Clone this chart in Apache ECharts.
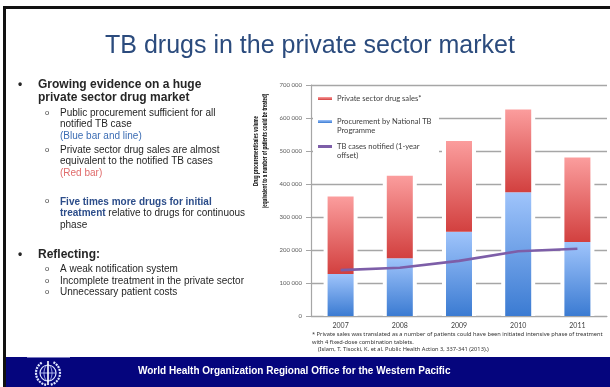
<!DOCTYPE html>
<html>
<head>
<meta charset="utf-8">
<script src="https://cdn.jsdelivr.net/npm/echarts@6/dist/echarts.min.js"></script>
<style>
html,body{margin:0;padding:0;background:#fff}
#main{width:610px;height:387px}
</style>
</head>
<body>
<div id="main"></div>
<script>
// data
const years = ['2007', '2008', '2009', '2010', '2011'];
const publicProcurement = [127000, 175000, 255000, 375000, 224000];
const privateSales = [235000, 250000, 275000, 251000, 256000];
const casesNotified = [139000, 146000, 167000, 196000, 204000];
const yMax = 700000;
const yStep = 100000;

const seriesNames = ['Private sector drug sales*', 'Procurement by National TB Programme', 'TB cases notified (1-year offset)'];

// total height of each stacked bar, used for the white halo behind the bars
const totals = years.map((y, i) => publicProcurement[i] + privateSales[i]);

var chartDom = document.getElementById('main');
var myChart = echarts.init(chartDom);
var option;

function grad(top, bottom) {
  return new echarts.graphic.LinearGradient(0, 0, 0, 1, [
    { offset: 0, color: top },
    { offset: 1, color: bottom }
  ]);
}

const txt = '#262626';
const subFont = 10;
const headFont = 'bold 12px "Liberation Sans"';
function line(x, y, text, style) {
  return {
    type: 'text', left: x, top: y - 6,
    style: Object.assign({ text: text, fill: txt, font: subFont + 'px "Liberation Sans"' }, style || {})
  };
}
function dot(y) {
  return { type: 'text', left: 45, top: y - 5, style: { text: 'o', fill: '#404040', font: '7.5px "Liberation Sans"' } };
}

function legendAt(top, name, text) {
  return {
    data: [{ name: name, icon: 'rect' }],
    orient: 'vertical',
    left: 318,
    top: top,
    padding: 0,
    itemWidth: 14,
    itemHeight: 3,
    formatter: function () { return text; },
    textStyle: { color: '#404040', fontSize: 7.6, fontFamily: 'Lato', lineHeight: 9 }
  };
}

option = {
  animation: false,
  backgroundColor: '#fff',
  grid: { left: 311, right: 3, top: 85, bottom: 71, containLabel: false },
  legend: [
    legendAt(94, seriesNames[0], 'Private sector drug sales*'),
    legendAt(108, seriesNames[1], '\nProcurement by National TB\nProgramme'),
    legendAt(133, seriesNames[2], '\nTB cases notified (1-year\noffset)')
  ],
  xAxis: [
    {
      type: 'category',
      data: years,
      z: 3,
      axisTick: { show: false },
      axisLine: { lineStyle: { color: '#a6a6a6', width: 1.2 } },
      axisLabel: { color: '#404040', fontSize: 7, fontFamily: 'Lato', margin: 6 }
    },
    { type: 'category', data: years, show: false }
  ],
  yAxis: {
    type: 'value',
    min: 0,
    max: yMax,
    interval: yStep,
    axisLine: { show: true, lineStyle: { color: '#a6a6a6', width: 1.2 } },
    axisTick: { show: true, length: 5, lineStyle: { color: '#a6a6a6' } },
    splitLine: { lineStyle: { color: '#a6a6a6', width: 1.3 } },
    axisLabel: {
      color: '#595959', fontSize: 6, fontFamily: 'Lato', margin: 9,
      formatter: function (v) { return String(v).replace(/\B(?=(\d{3})+(?!\d))/g, ' '); }
    }
  },
  series: [
    {
      name: 'halo',
      type: 'bar',
      xAxisIndex: 1,
      barWidth: 34,
      silent: true,
      itemStyle: { color: '#fff' },
      data: totals
    },
    {
      name: seriesNames[1],
      type: 'bar',
      stack: 'drugs',
      barWidth: 26,
      itemStyle: { color: grad('#9fc4fb', '#3b7bd2') },
      data: publicProcurement
    },
    {
      name: seriesNames[0],
      type: 'bar',
      stack: 'drugs',
      barWidth: 26,
      itemStyle: { color: grad('#fb9d9d', '#d2403f') },
      data: privateSales
    },
    {
      name: seriesNames[2],
      type: 'line',
      symbol: 'none',
      z: 4,
      lineStyle: { color: '#7d5ea8', width: 2.6 },
      itemStyle: { color: '#7d5ea8' },
      data: casesNotified
    }
  ],
  graphic: [
    // slide frame
    { type: 'rect', shape: { x: 3, y: 6, width: 607, height: 3 }, style: { fill: '#111' } },
    { type: 'rect', shape: { x: 3, y: 6, width: 3, height: 381 }, style: { fill: '#111' } },
    { type: 'rect', shape: { x: 6, y: 357, width: 604, height: 30 }, style: { fill: '#05057d' } },
    { type: 'line', shape: { x1: 27, y1: 357.5, x2: 70, y2: 357.5 }, style: { stroke: '#7a7ac0', lineWidth: 1 } },
    // WHO emblem (simplified)
    { type: 'circle', shape: { cx: 48, cy: 373, r: 8 }, style: { fill: 'none', stroke: '#dfe6ff', lineWidth: 1.2 } },
    { type: 'line', shape: { x1: 40, y1: 373, x2: 56, y2: 373 }, style: { stroke: '#c8d2ff', lineWidth: 0.8 } },
    { type: 'ellipse', shape: { cx: 48, cy: 373, rx: 4, ry: 8 }, style: { fill: 'none', stroke: '#c8d2ff', lineWidth: 0.8 } },
    { type: 'line', shape: { x1: 48, y1: 361, x2: 48, y2: 385 }, style: { stroke: '#ffffff', lineWidth: 1.6 } },
    { type: 'arc', shape: { cx: 48, cy: 373, r: 12, startAngle: Math.PI * 0.55, endAngle: Math.PI * 1.35 }, style: { fill: 'none', stroke: '#dfe6ff', lineWidth: 2.2, lineDash: [2, 1] } },
    { type: 'arc', shape: { cx: 48, cy: 373, r: 12, startAngle: -Math.PI * 0.35, endAngle: Math.PI * 0.45 }, style: { fill: 'none', stroke: '#dfe6ff', lineWidth: 2.2, lineDash: [2, 1] } },
    {
      type: 'text', left: 138, top: 366,
      style: { text: 'World Health Organization Regional Office for the Western Pacific', fill: '#fff', font: 'bold 10px "Liberation Sans"' }
    },
    // title
    {
      type: 'text', x: 310, y: 46,
      style: { text: 'TB drugs in the private sector market', fill: '#2b4b7d', font: '25px "Liberation Sans"', align: 'center', verticalAlign: 'middle' }
    },
    // left bullets
    { type: 'text', left: 18, top: 79, style: { text: '•', fill: txt, font: headFont } },
    line(38, 85, 'Growing evidence on a huge', { font: headFont }),
    line(38, 98, 'private sector drug market', { font: headFont }),
    dot(114), line(60, 114, 'Public procurement sufficient for all'),
    line(60, 125, 'notified TB case'),
    line(60, 137, '(Blue bar and line)', { fill: '#3c6db4' }),
    dot(151), line(60, 151, 'Private sector drug sales are almost'),
    line(60, 162, 'equivalent to the notified TB cases'),
    line(60, 174, '(Red bar)', { fill: '#e06b6b' }),
    dot(202),
    {
      type: 'text', left: 60, top: 196,
      style: {
        text: '{b|Five times more drugs for initial}\n{b|treatment} relative to drugs for continuous\nphase',
        fill: txt, font: subFont + 'px "Liberation Sans"', lineHeight: 11.5,
        rich: { b: { fill: '#2c4d8a', font: 'bold ' + subFont + 'px "Liberation Sans"' } }
      }
    },
    { type: 'text', left: 18, top: 249, style: { text: '•', fill: txt, font: headFont } },
    line(38, 255, 'Reflecting:', { font: headFont }),
    dot(270), line(60, 270, 'A weak notification system'),
    dot(282), line(60, 282, 'Incomplete treatment in the private sector'),
    dot(293), line(60, 293, 'Unnecessary patient costs'),
    // y axis title (rotated)
    {
      type: 'text', x: 261, y: 151, rotation: Math.PI / 2, scaleY: 1.4,
      style: {
        text: 'Drug procurement/sales volume\n(equivalent to a number of patients could be treated)',
        fill: '#000', font: 'bold 4.6px "Liberation Sans"', align: 'center', verticalAlign: 'middle', lineHeight: 6.4
      }
    },
    // legend background, behind the legends but over the grid lines
    { type: 'rect', z: 3, shape: { x: 313, y: 89, width: 126, height: 74 }, style: { fill: '#fff' } },
    // footnote
    {
      type: 'text', left: 312, top: 331,
      style: {
        text: '* Private sales was translated as a number of patients could have been initiated intensive phase of treatment\nwith 4 fixed-dose combination tablets.\n    (Islam, T. Tisocki, K. et al. Public Health Action 3, 337-341 (2013).)',
        fill: '#333', font: '5.7px "Noto Sans"', lineHeight: 7.3
      }
    }
  ]
};

option && myChart.setOption(option);
</script>
</body>
</html>
